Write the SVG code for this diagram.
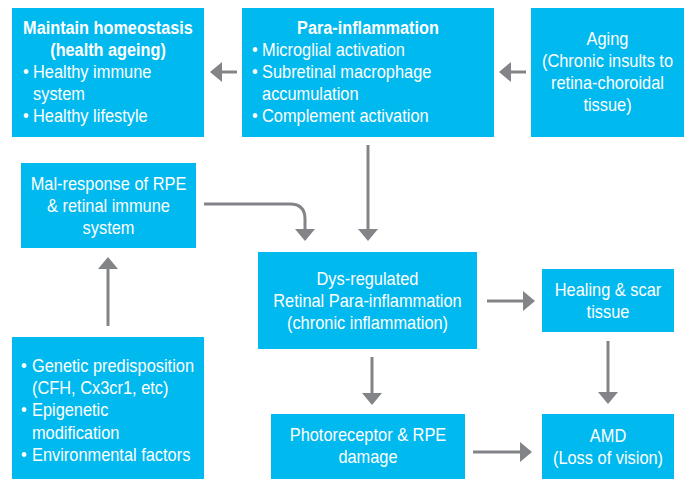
<svg xmlns="http://www.w3.org/2000/svg" width="690" height="480" viewBox="0 0 690 480">
<style>
.box{fill:#00B9EF}
text{font-family:"Liberation Sans",Arial,sans-serif;font-size:17.5px;fill:#fff}
.c{text-anchor:middle}
.b{font-weight:bold}
.conn{fill:none;stroke:#838487;stroke-width:3}
</style>
<defs>
<marker id="ah" viewBox="0 0 12 20" markerWidth="12" markerHeight="20" refX="0" refY="10" orient="auto" markerUnits="userSpaceOnUse">
<path d="M0,0 L12,10 L0,20 Z" fill="#838487"/>
</marker>
</defs>
<g id="connectors">
<path class="conn" d="M237,72 H222" marker-end="url(#ah)"/>
<path class="conn" d="M526,72 H511" marker-end="url(#ah)"/>
<path class="conn" d="M368,145 V229" marker-end="url(#ah)"/>
<path class="conn" d="M204,204 H290 Q305,204 305,219 V229" marker-end="url(#ah)"/>
<path class="conn" d="M108,326 V269" marker-end="url(#ah)"/>
<path class="conn" d="M487,301 H523" marker-end="url(#ah)"/>
<path class="conn" d="M372,357 V393" marker-end="url(#ah)"/>
<path class="conn" d="M608,341 V392" marker-end="url(#ah)"/>
<path class="conn" d="M473,452 H520" marker-end="url(#ah)"/>
</g>
<g id="maintain">
<rect class="box" x="12" y="8" width="192" height="129"/>
<g transform="translate(108,0) scale(0.93,1)">
<text class="c b" x="0" y="34">Maintain homeostasis</text>
<text class="c b" x="0" y="56">(health ageing)</text>
</g>
<g transform="translate(23,0) scale(0.937,1)">
<text x="0" y="78">•</text><text x="10.7" y="78">Healthy immune</text>
<text x="10.7" y="100">system</text>
<text x="0" y="122">•</text><text x="10.7" y="122">Healthy lifestyle</text>
</g>
</g>
<g id="para">
<rect class="box" x="242" y="8" width="252" height="129"/>
<g transform="translate(368,0) scale(0.93,1)">
<text class="c b" x="0" y="34">Para-inflammation</text>
</g>
<g transform="translate(252,0) scale(0.937,1)">
<text x="0" y="56">•</text><text x="10.7" y="56">Microglial activation</text>
<text x="0" y="78">•</text><text x="10.7" y="78">Subretinal macrophage</text>
<text x="10.7" y="100">accumulation</text>
<text x="0" y="122">•</text><text x="10.7" y="122">Complement activation</text>
</g>
</g>
<g id="aging">
<rect class="box" x="531" y="8" width="153" height="129"/>
<g transform="translate(607.5,0) scale(0.937,1)">
<text class="c" x="0" y="45">Aging</text>
<text class="c" x="0" y="67">(Chronic insults to</text>
<text class="c" x="0" y="89">retina-choroidal</text>
<text class="c" x="0" y="111">tissue)</text>
</g>
</g>
<g id="malresponse">
<rect class="box" x="21" y="163" width="175" height="85"/>
<g transform="translate(108.5,0) scale(0.937,1)">
<text class="c" x="0" y="190">Mal-response of RPE</text>
<text class="c" x="0" y="212">&amp; retinal immune</text>
<text class="c" x="0" y="234">system</text>
</g>
</g>
<g id="dysregulated">
<rect class="box" x="258" y="252" width="219" height="97"/>
<g transform="translate(367.5,0) scale(0.937,1)">
<text class="c" x="0" y="285">Dys-regulated</text>
<text class="c" x="0" y="307">Retinal Para-inflammation</text>
<text class="c" x="0" y="329">(chronic inflammation)</text>
</g>
</g>
<g id="healing">
<rect class="box" x="542" y="269" width="132" height="63"/>
<g transform="translate(608,0) scale(0.937,1)">
<text class="c" x="0" y="296">Healing &amp; scar</text>
<text class="c" x="0" y="318">tissue</text>
</g>
</g>
<g id="genetic">
<rect class="box" x="12" y="337" width="192" height="142"/>
<g transform="translate(21,0) scale(0.937,1)">
<text x="0" y="372">•</text><text x="11.7" y="372">Genetic predisposition</text>
<text x="11.7" y="394">(CFH, Cx3cr1, etc)</text>
<text x="0" y="416">•</text><text x="11.7" y="416">Epigenetic</text>
<text x="11.7" y="439">modification</text>
<text x="0" y="461">•</text><text x="11.7" y="461">Environmental factors</text>
</g>
</g>
<g id="photoreceptor">
<rect class="box" x="271" y="414" width="194" height="65"/>
<g transform="translate(368,0) scale(0.937,1)">
<text class="c" x="0" y="441">Photoreceptor &amp; RPE</text>
<text class="c" x="0" y="463">damage</text>
</g>
</g>
<g id="amd">
<rect class="box" x="542" y="414" width="132" height="65"/>
<g transform="translate(608,0) scale(0.937,1)">
<text class="c" x="0" y="442">AMD</text>
<text class="c" x="0" y="464">(Loss of vision)</text>
</g>
</g>
</svg>
